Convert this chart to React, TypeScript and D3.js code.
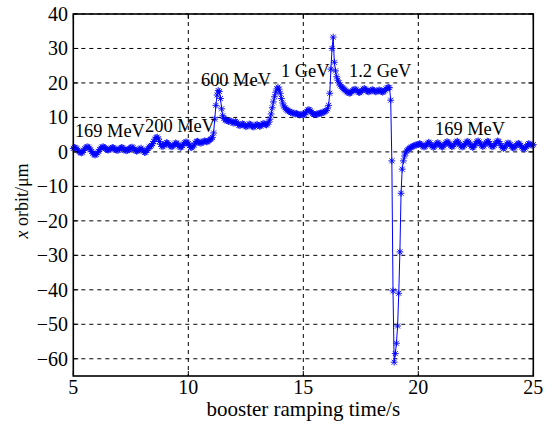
import React from "react";
import * as d3 from "d3";

// ---- data ----
const T_START = 5;
const T_STEP = 0.05;
// x orbit (μm) sampled every 0.05 s from 5 s to 25 s
const orbitValues: number[] = [
  // 5.00 - 5.95
  1.0, 1.3, 1.2, 0.9, 0.5, 0.1, -0.2, -0.3, -0.1, 0.4, 0.9, 1.3, 1.5, 1.4, 1.1, 0.6, 0.1, -0.4, -0.8, -0.9,
  // 6.00 - 6.95
  -0.7, -0.3, 0.2, 0.7, 1.1, 1.4, 1.5, 1.3, 1.0, 0.7, 0.5, 0.6, 0.8, 1.1, 1.3, 1.2, 0.9, 0.6, 0.4, 0.5,
  // 7.00 - 7.95
  0.8, 1.1, 1.3, 1.2, 0.9, 0.5, 0.3, 0.4, 0.7, 1.0, 1.3, 1.4, 1.2, 0.8, 0.4, 0.2, 0.3, 0.6, 0.9, 1.1,
  // 8.00 - 8.95
  0.6, 0.2, -0.2, -0.1, 0.4, 1.0, 1.4, 1.6, 1.9, 2.4, 3.0, 3.7, 4.2, 4.3, 3.8, 3.0, 2.2, 1.6, 1.5, 1.9,
  // 9.00 - 9.95
  2.4, 2.7, 2.6, 2.2, 1.8, 1.5, 1.5, 1.8, 2.3, 2.6, 2.5, 2.1, 1.6, 1.3, 1.4, 1.8, 2.3, 2.7, 2.9, 2.8,
  // 10.00 - 10.95
  2.4, 1.8, 1.3, 1.2, 1.5, 2.0, 2.6, 3.0, 3.1, 2.9, 2.6, 2.5, 2.7, 3.0, 3.2, 3.1, 2.9, 3.0, 3.3, 3.6,
  // 11.00 - 11.95
  3.8, 4.2, 5.5, 9.5, 13.5, 16.5, 17.8, 17.5, 15.5, 12.5, 10.5, 9.7, 9.3, 9.2, 9.0, 8.8, 9.1, 9.0, 8.6, 8.3,
  // 12.00 - 12.95
  8.5, 8.8, 8.6, 8.1, 7.7, 7.6, 7.9, 8.2, 8.0, 7.6, 7.3, 7.4, 7.8, 8.1, 8.0, 7.6, 7.3, 7.2, 7.5, 7.9,
  // 13.00 - 13.95
  8.0, 7.7, 7.4, 7.5, 7.9, 8.3, 8.2, 7.9, 7.8, 8.1, 8.6, 9.5, 11.0, 12.8, 14.5, 16.0, 17.3, 18.3, 18.8, 18.2,
  // 14.00 - 14.95
  17.0, 15.5, 14.2, 13.3, 12.8, 12.4, 12.1, 11.9, 11.7, 11.4, 11.5, 11.3, 11.1, 11.0, 11.2, 11.0, 10.8, 10.7, 10.9, 10.8,
  // 15.00 - 15.95
  10.7, 10.9, 11.3, 11.8, 12.2, 12.3, 12.0, 11.5, 11.1, 10.9, 10.8, 10.9, 11.0, 11.0, 11.2, 11.3, 11.2, 11.4, 11.6, 11.8,
  // 16.00 - 16.95
  12.0, 12.5, 13.5, 17.0, 24.0, 30.0, 33.3, 26.0, 23.5, 21.8, 20.8, 20.0, 19.4, 19.0, 18.6, 18.3, 18.0, 17.7, 17.4, 17.2,
  // 17.00 - 17.95
  17.0, 17.1, 17.4, 17.8, 18.1, 18.2, 18.0, 17.6, 17.3, 17.2, 17.4, 17.8, 18.2, 18.4, 18.2, 17.8, 17.5, 17.4, 17.6, 17.9,
  // 18.00 - 18.95
  18.1, 17.9, 17.6, 17.4, 17.5, 17.8, 18.0, 17.8, 17.5, 17.3, 17.5, 17.9, 18.3, 18.6, 18.7, 18.6, 15.0, -2.6, -40.3, -61.0,
  // 19.00 - 19.95
  -58.5, -55.5, -50.5, -41.0, -29.0, -12.0, -5.0, -2.6, -1.2, -0.3, 0.3, 0.7, 1.0, 1.2, 1.4, 1.6, 1.7, 1.9, 2.0, 2.1,
  // 20.00 - 20.95
  2.2, 2.4, 2.3, 2.0, 1.6, 1.4, 1.6, 2.0, 2.5, 2.8, 2.6, 2.1, 1.6, 1.3, 1.5, 2.0, 2.5, 2.7, 2.4, 1.9,
  // 21.00 - 21.95
  1.5, 1.4, 1.7, 2.2, 2.7, 3.0, 2.8, 2.3, 1.8, 1.5, 1.6, 2.0, 2.5, 2.9, 3.1, 2.8, 2.2, 1.7, 1.4, 1.5,
  // 22.00 - 22.95
  1.9, 2.5, 2.9, 3.1, 2.8, 2.2, 1.6, 1.3, 1.4, 1.9, 2.5, 3.0, 3.2, 2.9, 2.3, 1.8, 1.5, 1.7, 2.2, 2.8,
  // 23.00 - 23.95
  3.1, 3.0, 2.5, 1.9, 1.5, 1.5, 1.9, 2.4, 2.9, 3.2, 3.0, 2.4, 1.8, 1.3, 1.0, 1.2, 1.7, 2.3, 2.6, 2.5,
  // 24.00 - 24.95
  2.1, 1.6, 1.2, 1.1, 1.4, 1.9, 2.3, 2.5, 2.3, 1.9, 1.4, 1.0, 0.8, 1.1, 1.6, 2.1, 2.4, 2.3, 2.0, 1.9,
  // 25.00
  2.1,
];

const xTicks = [5, 10, 15, 20, 25];
const yTicks = [-60, -50, -40, -30, -20, -10, 0, 10, 20, 30, 40];

const annotationLabels = ["169 MeV", "200 MeV", "600 MeV", "1 GeV", "1.2 GeV", "169 MeV"];
const annotationT = [5.07, 8.12, 10.55, 14.03, 16.99, 20.73];
const annotationV = [4.35, 5.8, 19.1, 21.7, 21.7, 4.9];

// ---- layout ----
const W = 548;
const H = 424;
const left = 73.3;
const right = 533.3;
const top = 14;
const bottom = 376;

export default function App() {
  const x = d3.scaleLinear().domain([5, 25]).range([left, right]);
  const y = d3.scaleLinear().domain([-65, 40]).range([bottom, top]);

  const pts = orbitValues.map((v, i) => [T_START + i * T_STEP, v] as [number, number]);
  const line = d3
    .line<[number, number]>()
    .x((d) => x(d[0]))
    .y((d) => y(d[1]));

  const m = 3.4;
  const md = 2.5;
  const star = `M0,${-m}L0,${m}M${-m},0L${m},0M${-md},${-md}L${md},${md}M${-md},${md}L${md},${-md}`;

  const font = "'Liberation Serif', 'Times New Roman', serif";

  return (
    <svg width={W} height={H} style={{ position: "absolute", left: 0, top: 0, background: "#fff" }}>
      <rect x={0} y={0} width={W} height={H} fill="#fff" />
      {/* grid */}
      {xTicks.slice(1, -1).map((t) => (
        <line key={"gx" + t} x1={x(t)} x2={x(t)} y1={top} y2={bottom} stroke="#000" strokeWidth={1} strokeDasharray="4,4" />
      ))}
      {yTicks.map((t) => (
        <line key={"gy" + t} x1={left} x2={right} y1={y(t)} y2={y(t)} stroke="#000" strokeWidth={1} strokeDasharray="4,4" />
      ))}
      {/* series */}
      <path d={line(pts) || ""} fill="none" stroke="#0000ff" strokeWidth={1} />
      <g stroke="#0000ff" strokeWidth={0.9} fill="none">
        {pts.map((p, i) => (
          <path key={i} d={star} transform={`translate(${x(p[0])},${y(p[1])})`} />
        ))}
      </g>
      {/* box */}
      <rect x={left} y={top} width={right - left} height={bottom - top} fill="none" stroke="#000" strokeWidth={1.6} />
      {/* ticks inward */}
      {xTicks.map((t) => (
        <g key={"tx" + t}>
          <line x1={x(t)} x2={x(t)} y1={bottom} y2={bottom - 5} stroke="#000" />
          <line x1={x(t)} x2={x(t)} y1={top} y2={top + 5} stroke="#000" />
        </g>
      ))}
      {yTicks.map((t) => (
        <g key={"ty" + t}>
          <line x1={left} x2={left + 5} y1={y(t)} y2={y(t)} stroke="#000" />
          <line x1={right} x2={right - 5} y1={y(t)} y2={y(t)} stroke="#000" />
        </g>
      ))}
      {/* tick labels */}
      {xTicks.map((t) => (
        <text key={"lx" + t} x={x(t)} y={394} textAnchor="middle" fontFamily={font} fontSize={20} fill="#000">
          {t}
        </text>
      ))}
      {yTicks.map((t) => (
        <text key={"ly" + t} x={68} y={y(t) + 7} textAnchor="end" fontFamily={font} fontSize={20} fill="#000">
          {t < 0 ? "\u2212" + Math.abs(t) : String(t)}
        </text>
      ))}
      {/* annotations */}
      {annotationLabels.map((s, i) => (
        <text key={"a" + i} x={x(annotationT[i])} y={y(annotationV[i])} fontFamily={font} fontSize={18.4} fill="#000">
          {s}
        </text>
      ))}
      {/* axis titles */}
      <text x={(left + right) / 2} y={416} textAnchor="middle" fontFamily={font} fontSize={21} fill="#000">
        booster ramping time/s
      </text>
      <text
        transform={`translate(28,${(top + bottom) / 2 + 6}) rotate(-90)`}
        textAnchor="middle"
        fontFamily={font}
        fontSize={18}
        fill="#000"
      >
        <tspan fontStyle="italic">x</tspan> orbit/μm
      </text>
    </svg>
  );
}
